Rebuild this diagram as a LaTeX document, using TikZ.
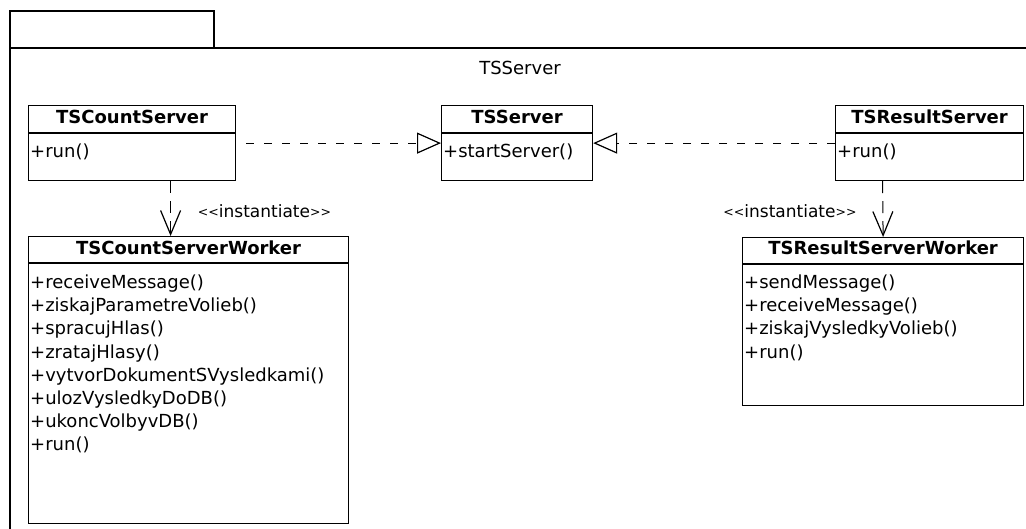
\documentclass[tikz,border=0pt]{standalone}
\usepackage{fontspec}
\setmainfont{DejaVu Sans}
\usetikzlibrary{arrows.meta,calc}
\newcommand\myLT{\raisebox{1.5pt}{\fontsize{12.5}{14}\selectfont<}}
\newcommand\myGT{\raisebox{1.5pt}{\fontsize{12.5}{14}\selectfont>}}
\begin{document}
\begin{tikzpicture}[x=1pt,y=-1pt,
  cls/.style n args={2}{draw=black,line width=1.2pt,anchor=north west,minimum width=#1,minimum height=#2,inner sep=0pt},
  ctitle/.style={font=\fontsize{18}{20}\selectfont\bfseries,inner sep=0pt,text height=13pt,text depth=4pt},
  meth/.style={font=\fontsize{18}{20}\selectfont,anchor=west,inner sep=0pt,text height=13pt,text depth=4pt},
  lbl/.style={font=\fontsize{17}{19}\selectfont,inner sep=0pt,text height=13pt,text depth=4pt},
  realize/.style={line width=1pt,dash pattern=on 8pt off 10pt,-{Triangle[open,length=24pt,width=21pt,line width=1.2pt]}},
  depend/.style={line width=1pt,dash pattern=on 12pt off 8pt,-{Straight Barb[length=24pt,width=20pt,line width=1.2pt]}}]
\useasboundingbox (0,0) rectangle (1026,528);
\clip (0,0) rectangle (1026,528);
% package frame
\draw[line width=1.3pt] (10,48) rectangle (214,11);
\draw[line width=1.3pt] (10,530) -- (10,48) -- (1030,48);
\node[meth,anchor=center] (pkg) at (520,70) {TSServer};
% classes
\node[cls={207pt}{75pt}] (cs) at (28,105) {};
\node[cls={151pt}{75pt}] (ss) at (441,105) {};
\node[cls={188pt}{75pt}] (rs) at (835,105) {};
\node[cls={320pt}{287pt}] (cw) at (28,236) {};
\node[cls={281pt}{168pt}] (rw) at (742,237) {};
\foreach \n in {cs,ss,rs}{
  \draw[line width=1.2pt] ([yshift=-28pt]\n.north west) -- ([yshift=-28pt]\n.north east);}
\foreach \n in {cw,rw}{
  \draw[line width=1.2pt] ([yshift=-27pt]\n.north west) -- ([yshift=-27pt]\n.north east);}
% titles
\node[ctitle] (csT) at ($(cs.north)+(0,14)$) {TSCountServer};
\node[ctitle] (ssT) at ($(ss.north)+(0,14)$) {TSServer};
\node[ctitle] (rsT) at ($(rs.north)+(0,14)$) {TSResultServer};
\node[ctitle] (cwT) at ($(cw.north)+(0,13.5)$) {TSCountServerWorker};
\node[ctitle] (rwT) at ($(rw.north)+(0,13)$) {TSResultServerWorker};
% methods
\node[meth] (cs1) at ($(cs.north west)+(2,48)$) {+run()};
\node[meth] (ss1) at ($(ss.north west)+(2,48)$) {+startServer()};
\node[meth] (rs1) at ($(rs.north west)+(2,48)$) {+run()};
\foreach \t [count=\i from 0] in {+receiveMessage(),+ziskajParametreVolieb(),+spracujHlas(),+zratajHlasy(),+vytvorDokumentSVysledkami(),+ulozVysledkyDoDB(),+ukoncVolbyvDB(),+run()}{
  \node[meth] (cwm\i) at ($(cw.north west)+(2,48+23.2*\i)$) {\t};}
\foreach \t [count=\i from 0] in {+sendMessage(),+receiveMessage(),+ziskajVysledkyVolieb(),+run()}{
  \node[meth] (rwm\i) at ($(rw.north west)+(2,47+23.2*\i)$) {\t};}
% connectors
\draw[realize] ([xshift=10pt]cs.east) -- (ss.west);
\draw[realize] (rs.west) -- (ss.east);
\draw[depend] ([xshift=38.5pt]cs.south) -- ([xshift=-18pt]cw.north);
\draw[depend] ([xshift=-47pt]rs.south) -- (rw.north);
\node[lbl] (l1) at (264.5,213) {\myLT\myLT instantiate\myGT\myGT};
\node[lbl] (l2) at (790,213) {\myLT\myLT instantiate\myGT\myGT};
\end{tikzpicture}
\end{document}
